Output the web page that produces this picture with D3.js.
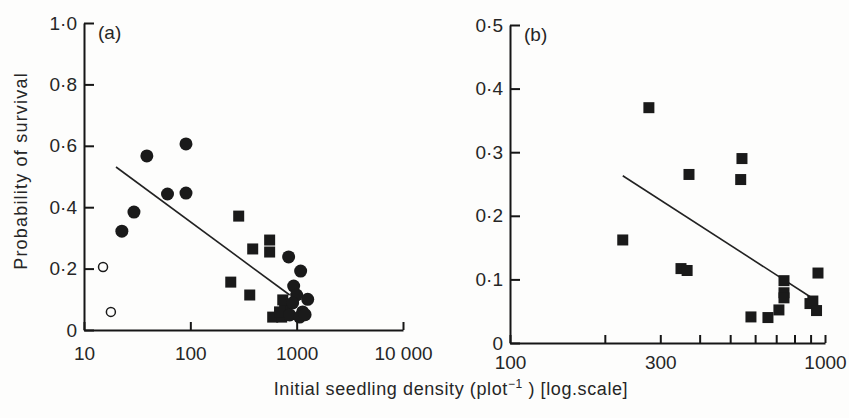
<!doctype html>
<html lang="en">
<head>
<meta charset="utf-8">
<script src="https://d3js.org/d3.v7.min.js"></script>
<title>Seedling survival vs density</title>
<style>
  body { margin: 0; background: #fdfdfc; }
  svg text { font-family: "Liberation Sans", Arial, sans-serif; fill: #262626; }
  .axis path, .axis line { stroke: #161616; stroke-width: 2; }
  .axis text { font-size: 19px; }
</style>
</head>
<body>
<svg id="chart" width="849" height="418"></svg>
<script>
// panel (a): density (plot^-1) vs probability of survival
const aFilledCircles = [[39, 0.567], [91, 0.606], [61, 0.443], [91, 0.446], [29.5, 0.384], [22.7, 0.322],
  [840, 0.238], [1090, 0.192], [937, 0.143], [1270, 0.10], [1000, 0.114], [916, 0.088],
  [1138, 0.059], [860, 0.049], [1066, 0.042], [1200, 0.05]];
const aOpenCircles = [[15.1, 0.205], [17.9, 0.059]];
const aSquares = [[285, 0.371], [386, 0.264], [557, 0.293], [557, 0.254], [240, 0.156], [362, 0.114],
  [595, 0.042], [723, 0.042], [770, 0.075], [740, 0.098], [690, 0.059]];
const aLine = [[20, 0.531], [860, 0.114]];
const aXTicks = [10, 100, 1000, 10000];
const aXLabels = ['10', '100', '1000', '10 000'];
const aYTicks = [0, 0.2, 0.4, 0.6, 0.8, 1.0];

// panel (b)
const bSquares = [[276, 0.37], [370, 0.265], [545, 0.29], [540, 0.257], [228, 0.162], [349, 0.117],
  [365, 0.114], [741, 0.098], [741, 0.079], [741, 0.071], [714, 0.052], [582, 0.041],
  [659, 0.040], [950, 0.110], [896, 0.062], [915, 0.066], [940, 0.051]];
const bLine = [[228, 0.263], [915, 0.07]];
const bXTicks = [100, 200, 300, 400, 500, 600, 700, 800, 900, 1000];
const bXLabelled = [100, 300, 1000];
const bYTicks = [0, 0.1, 0.2, 0.3, 0.4, 0.5];

const svg = d3.select('#chart');
const dot = s => s.toString().replace('.', '·');
const yFmt = d => d === 0 ? '0' : dot(d3.format('.1f')(d));

function panel(opts) {
  const x = d3.scaleLog().domain(opts.xDomain).range(opts.xRange);
  const y = d3.scaleLinear().domain(opts.yDomain).range(opts.yRange);
  const g = svg.append('g');

  g.append('g').attr('class', 'axis')
    .attr('transform', 'translate(0,' + opts.yRange[0] + ')')
    .call(d3.axisBottom(x).tickValues(opts.xTicks).tickSize(-8).tickSizeOuter(0)
      .tickPadding(opts.xPad).tickFormat(opts.xFmt));

  g.append('g').attr('class', 'axis')
    .attr('transform', 'translate(' + opts.xRange[0] + ',0)')
    .call(d3.axisLeft(y).tickValues(opts.yTicks).tickSize(-10).tickSizeOuter(0)
      .tickPadding(7).tickFormat(yFmt));

  g.append('text').attr('x', opts.xRange[0] + 14).attr('y', opts.yRange[1] + 16)
    .style('font-size', '19px').text(opts.label);

  g.append('path')
    .datum(opts.line)
    .attr('fill', 'none').attr('stroke', '#222').attr('stroke-width', 1.6)
    .attr('d', d3.line().x(d => x(d[0])).y(d => y(d[1])));

  return { g, x, y };
}

const a = panel({
  xDomain: [10, 10000], xRange: [84, 403], yDomain: [0, 1], yRange: [330, 23],
  xTicks: aXTicks, xFmt: (d, i) => aXLabels[i], xPad: 17, yTicks: aYTicks,
  line: aLine, label: '(a)'
});

a.g.selectAll('.sq').data(aSquares).enter().append('rect')
  .attr('x', d => a.x(d[0]) - 5.5).attr('y', d => a.y(d[1]) - 5.5)
  .attr('width', 11).attr('height', 11).attr('fill', '#1a1a1a');

a.g.selectAll('.fc').data(aFilledCircles).enter().append('circle')
  .attr('cx', d => a.x(d[0])).attr('cy', d => a.y(d[1])).attr('r', 6.5)
  .attr('fill', '#1a1a1a');

a.g.selectAll('.oc').data(aOpenCircles).enter().append('circle')
  .attr('cx', d => a.x(d[0])).attr('cy', d => a.y(d[1])).attr('r', 4.5)
  .attr('fill', 'none').attr('stroke', '#1a1a1a').attr('stroke-width', 1.5);

const b = panel({
  xDomain: [100, 1000], xRange: [510, 825], yDomain: [0, 0.5], yRange: [343, 25],
  xTicks: bXTicks, xFmt: d => bXLabelled.includes(d) ? String(d) : '', xPad: 13, yTicks: bYTicks,
  line: bLine, label: '(b)'
});

b.g.selectAll('.sq').data(bSquares).enter().append('rect')
  .attr('x', d => b.x(d[0]) - 5.5).attr('y', d => b.y(d[1]) - 5.5)
  .attr('width', 11).attr('height', 11).attr('fill', '#1a1a1a');

// axis titles
svg.append('text')
  .attr('transform', 'translate(27,171) rotate(-90)')
  .attr('text-anchor', 'middle').style('font-size', '18px').style('letter-spacing', '1.2px')
  .text('Probability of survival');

const xt = svg.append('text')
  .attr('x', 451).attr('y', 395).attr('text-anchor', 'middle')
  .style('font-size', '18px').style('letter-spacing', '0.6px');
xt.append('tspan').text('Initial seedling density (plot');
xt.append('tspan').attr('dy', -7).style('font-size', '12px').text('−1');
xt.append('tspan').attr('dy', 7).text(' ) [log.scale]');
</script>
</body>
</html>
